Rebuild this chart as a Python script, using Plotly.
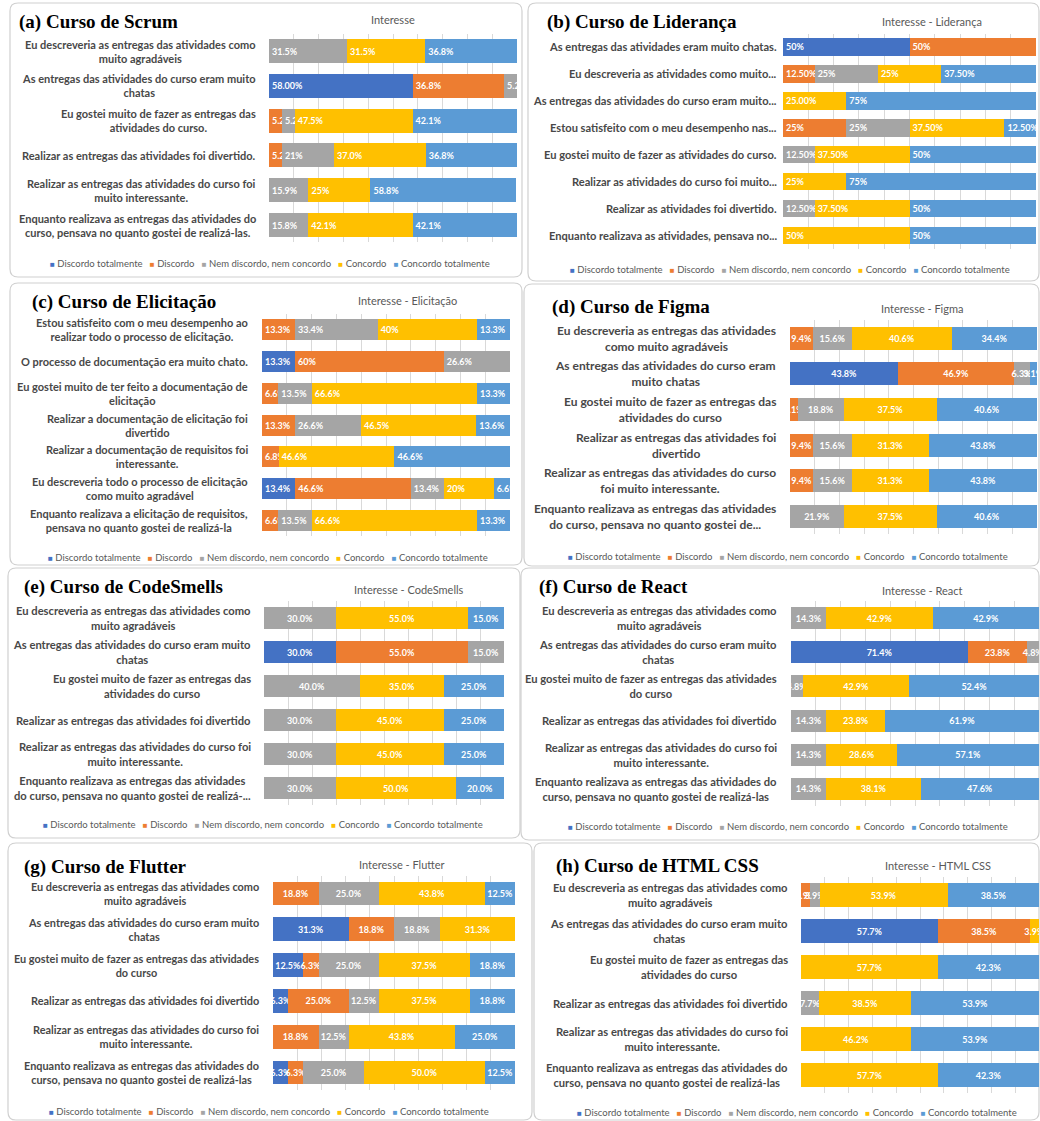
import plotly.graph_objects as go

W, H = 1040, 1121

series_names = ["Discordo totalmente", "Discordo", "Nem discordo, nem concordo", "Concordo", "Concordo totalmente"]
series_colors = ["#4472C4", "#ED7D31", "#A5A5A5", "#FFC000", "#5B9BD5"]

# ---------------- (a) Scrum ----------------
scrum_title = "(a) Curso de Scrum"
scrum_chart_title = "Interesse"
scrum_categories = [
    "Eu descreveria as entregas das atividades como<br>muito agradáveis",
    "As entregas das atividades do curso eram muito<br>chatas",
    "Eu gostei muito de fazer as entregas das<br>atividades do curso.",
    "Realizar as entregas das atividades foi divertido.",
    "Realizar as entregas das atividades do curso foi<br>muito interessante.",
    "Enquanto realizava as entregas das atividades do<br>curso, pensava no quanto gostei de realizá-las.",
]
scrum_dt = [None, "58.00", None, None, None, None]
scrum_d = [None, "36.8", "5.2", "5.2", None, None]
scrum_n = ["31.5", "5.2", "5.2", "21", "15.9", "15.8"]
scrum_c = ["31.5", None, "47.5", "37.0", "25", "42.1"]
scrum_ct = ["36.8", None, "42.1", "36.8", "58.8", "42.1"]

# ---------------- (b) Liderança ----------------
lid_title = "(b) Curso de Liderança"
lid_chart_title = "Interesse - Liderança"
lid_categories = [
    "As entregas das atividades eram muito chatas.",
    "Eu descreveria as atividades como muito...",
    "As entregas das atividades do curso eram muito...",
    "Estou satisfeito com o meu desempenho nas...",
    "Eu gostei muito de fazer as atividades do curso.",
    "Realizar as atividades do curso foi muito...",
    "Realizar as atividades foi divertido.",
    "Enquanto realizava as atividades, pensava no...",
]
lid_dt = ["50", None, None, None, None, None, None, None]
lid_d = ["50", "12.50", None, "25", None, None, None, None]
lid_n = [None, "25", None, "25", "12.50", None, "12.50", None]
lid_c = [None, "25", "25.00", "37.50", "37.50", "25", "37.50", "50"]
lid_ct = [None, "37.50", "75", "12.50", "50", "75", "50", "50"]

# ---------------- (c) Elicitação ----------------
eli_title = "(c) Curso de Elicitação"
eli_chart_title = "Interesse - Elicitação"
eli_categories = [
    "Estou satisfeito com o meu desempenho ao<br>realizar todo o processo de elicitação.",
    "O processo de documentação era muito chato.",
    "Eu gostei muito de ter feito a documentação de<br>elicitação",
    "Realizar a documentação de elicitação foi<br>divertido",
    "Realizar a documentação de requisitos foi<br>interessante.",
    "Eu descreveria todo o processo de elicitação<br>como muito agradável",
    "Enquanto realizava a elicitação de requisitos,<br>pensava no quanto gostei de realizá-la",
]
eli_dt = [None, "13.3", None, None, None, "13.4", None]
eli_d = ["13.3", "60", "6.6", "13.3", "6.8", "46.6", "6.6"]
eli_n = ["33.4", "26.6", "13.5", "26.6", None, "13.4", "13.5"]
eli_c = ["40", None, "66.6", "46.5", "46.6", "20", "66.6"]
eli_ct = ["13.3", None, "13.3", "13.6", "46.6", "6.6", "13.3"]

# ---------------- (d) Figma ----------------
fig_title = "(d) Curso de Figma"
fig_chart_title = "Interesse - Figma"
fig_categories = [
    "Eu descreveria as entregas das atividades<br>como muito agradáveis",
    "As entregas das atividades do curso eram<br>muito chatas",
    "Eu gostei muito de fazer as entregas das<br>atividades do curso",
    "Realizar as entregas das atividades foi<br>divertido",
    "Realizar as entregas das atividades do curso<br>foi muito interessante.",
    "Enquanto realizava as entregas das atividades<br>do curso, pensava no quanto gostei de...",
]
fig_dt = [None, "43.8", None, None, None, None]
fig_d = ["9.4", "46.9", "3.1", "9.4", "9.4", None]
fig_n = ["15.6", "6.3", "18.8", "15.6", "15.6", "21.9"]
fig_c = ["40.6", None, "37.5", "31.3", "31.3", "37.5"]
fig_ct = ["34.4", "3.1", "40.6", "43.8", "43.8", "40.6"]

# ---------------- (e) CodeSmells ----------------
cs_title = "(e) Curso de CodeSmells"
cs_chart_title = "Interesse - CodeSmells"
cs_categories = [
    "Eu descreveria as entregas das atividades como<br>muito agradáveis",
    "As entregas das atividades do curso eram muito<br>chatas",
    "Eu gostei muito de fazer as entregas das<br>atividades do curso",
    "Realizar as entregas das atividades foi divertido",
    "Realizar as entregas das atividades do curso foi<br>muito interessante.",
    "Enquanto realizava as entregas das atividades<br>do curso, pensava no quanto gostei de realizá-...",
]
cs_dt = [None, "30.0", None, None, None, None]
cs_d = [None, "55.0", None, None, None, None]
cs_n = ["30.0", "15.0", "40.0", "30.0", "30.0", "30.0"]
cs_c = ["55.0", None, "35.0", "45.0", "45.0", "50.0"]
cs_ct = ["15.0", None, "25.0", "25.0", "25.0", "20.0"]

# ---------------- (f) React ----------------
re_title = "(f) Curso de React"
re_chart_title = "Interesse - React"
re_categories = [
    "Eu descreveria as entregas das atividades como<br>muito agradáveis",
    "As entregas das atividades do curso eram muito<br>chatas",
    "Eu gostei muito de fazer as entregas das atividades<br>do curso",
    "Realizar as entregas das atividades foi divertido",
    "Realizar as entregas das atividades do curso foi<br>muito interessante.",
    "Enquanto realizava as entregas das atividades do<br>curso, pensava no quanto gostei de realizá-las",
]
re_dt = [None, "71.4", None, None, None, None]
re_d = [None, "23.8", None, None, None, None]
re_n = ["14.3", "4.8", "4.8", "14.3", "14.3", "14.3"]
re_c = ["42.9", None, "42.9", "23.8", "28.6", "38.1"]
re_ct = ["42.9", None, "52.4", "61.9", "57.1", "47.6"]

# ---------------- (g) Flutter ----------------
fl_title = "(g) Curso de Flutter"
fl_chart_title = "Interesse - Flutter"
fl_categories = [
    "Eu descreveria as entregas das atividades como<br>muito agradáveis",
    "As entregas das atividades do curso eram muito<br>chatas",
    "Eu gostei muito de fazer as entregas das atividades<br>do curso",
    "Realizar as entregas das atividades foi divertido",
    "Realizar as entregas das atividades do curso foi<br>muito interessante.",
    "Enquanto realizava as entregas das atividades do<br>curso, pensava no quanto gostei de realizá-las",
]
fl_dt = [None, "31.3", "12.5", "6.3", None, "6.3"]
fl_d = ["18.8", "18.8", "6.3", "25.0", "18.8", "6.3"]
fl_n = ["25.0", "18.8", "25.0", "12.5", "12.5", "25.0"]
fl_c = ["43.8", "31.3", "37.5", "37.5", "43.8", "50.0"]
fl_ct = ["12.5", None, "18.8", "18.8", "25.0", "12.5"]

# ---------------- (h) HTML CSS ----------------
hc_title = "(h) Curso de HTML CSS"
hc_chart_title = "Interesse - HTML CSS"
hc_categories = [
    "Eu descreveria as entregas das atividades como<br>muito agradáveis",
    "As entregas das atividades do curso eram muito<br>chatas",
    "Eu gostei muito de fazer as entregas das<br>atividades do curso",
    "Realizar as entregas das atividades foi divertido",
    "Realizar as entregas das atividades do curso foi<br>muito interessante.",
    "Enquanto realizava as entregas das atividades do<br>curso, pensava no quanto gostei de realizá-las",
]
hc_dt = [None, "57.7", None, None, None, None]
hc_d = ["3.9", "38.5", None, None, None, None]
hc_n = ["3.9", None, None, "7.7", None, None]
hc_c = ["53.9", "3.9", "57.7", "38.5", "46.2", "57.7"]
hc_ct = ["38.5", None, "42.3", "53.9", "53.9", "42.3"]

panels_data = [
    (scrum_title, scrum_chart_title, scrum_categories, [scrum_dt, scrum_d, scrum_n, scrum_c, scrum_ct]),
    (lid_title, lid_chart_title, lid_categories, [lid_dt, lid_d, lid_n, lid_c, lid_ct]),
    (eli_title, eli_chart_title, eli_categories, [eli_dt, eli_d, eli_n, eli_c, eli_ct]),
    (fig_title, fig_chart_title, fig_categories, [fig_dt, fig_d, fig_n, fig_c, fig_ct]),
    (cs_title, cs_chart_title, cs_categories, [cs_dt, cs_d, cs_n, cs_c, cs_ct]),
    (re_title, re_chart_title, re_categories, [re_dt, re_d, re_n, re_c, re_ct]),
    (fl_title, fl_chart_title, fl_categories, [fl_dt, fl_d, fl_n, fl_c, fl_ct]),
    (hc_title, hc_chart_title, hc_categories, [hc_dt, hc_d, hc_n, hc_c, hc_ct]),
]

# ---------------- layout (pixel positions) ----------------
panels_layout = [
    dict(bx=(269, 517), by=(33.6, 242.4), bw=0.69, lr=258, ls=11, tl=(17, 22), ct=(393, 20), lg=(270, 263), box=(10, 3, 522, 277), anchor="start"),
    dict(bx=(783, 1036), by=(33.5, 249), bw=0.65, lr=779, ls=11.1, tl=(545, 22), ct=(932, 21), lg=(790, 269), box=(528, 3, 1039, 281), anchor="start"),
    dict(bx=(262, 510), by=(313.6, 536.4), bw=0.66, lr=250, ls=11, tl=(30, 302), ct=(407, 301), lg=(268, 557), box=(10, 283, 522, 565), anchor="start"),
    dict(bx=(790, 1037), by=(320.2, 534.4), bw=0.645, lr=778, ls=12, tl=(550, 307), ct=(922, 308), lg=(788, 556), box=(524, 284, 1039, 566), anchor="middle"),
    dict(bx=(264, 504), by=(601, 805), bw=0.65, lr=253, ls=11.2, tl=(22, 587), ct=(409, 589), lg=(263, 824), box=(8, 568, 520, 838), anchor="middle"),
    dict(bx=(791, 1039), by=(601, 806), bw=0.645, lr=779, ls=11.2, tl=(537, 587), ct=(922, 590), lg=(788, 826), box=(521, 568, 1039, 840), anchor="middle"),
    dict(bx=(273, 515), by=(875.6, 1090.4), bw=0.66, lr=261, ls=10.9, tl=(22, 867), ct=(402, 864), lg=(269, 1111), box=(8, 843, 532, 1120), anchor="middle"),
    dict(bx=(801, 1039), by=(877, 1093), bw=0.667, lr=790, ls=11.2, tl=(554, 866), ct=(938, 866), lg=(797, 1112), box=(534, 843, 1039, 1120), anchor="middle"),
]

def fx(px):
    return px / W

def fy(py):
    return 1 - py / H

LABEL_FONT = "Lato, 'Open Sans', sans-serif"
TEXT_GRAY = "#595959"

fig = go.Figure()
annotations = []
shapes = []
layout_axes = {}

for i, ((title, ctitle, cats, series), L) in enumerate(zip(panels_data, panels_layout)):
    n = i + 1
    xa = "x" if n == 1 else f"x{n}"
    ya = "y" if n == 1 else f"y{n}"
    xkey = "xaxis" if n == 1 else f"xaxis{n}"
    ykey = "yaxis" if n == 1 else f"yaxis{n}"

    for name, color, vals in zip(series_names, series_colors, series):
        fig.add_trace(go.Bar(
            x=[float(v) / 100 if v else None for v in vals],
            y=cats,
            orientation="h",
            name=name,
            width=L["bw"],
            marker=dict(color=color, line=dict(width=0)),
            text=[(v + "%") if v else "" for v in vals],
            textposition="inside",
            insidetextanchor=L["anchor"],
            textangle=0,
            constraintext="none",
            cliponaxis=True,
            textfont=dict(family=LABEL_FONT, size=9, color="white", weight="bold"),
            xaxis=xa, yaxis=ya,
            showlegend=False,
            hoverinfo="skip",
        ))

    layout_axes[xkey] = dict(
        domain=[fx(L["bx"][0]), fx(L["bx"][1])],
        range=[0, 1], dtick=0.1, tick0=0,
        showgrid=True, gridcolor="#D9D9D9", gridwidth=1,
        showticklabels=False, zeroline=False, showline=False, ticks="",
        anchor=ya, fixedrange=True,
    )
    layout_axes[ykey] = dict(
        domain=[fy(L["by"][1]), fy(L["by"][0])],
        type="category", categoryorder="array", categoryarray=cats,
        range=[len(cats) - 0.5, -0.5],
        showticklabels=False, showgrid=False, zeroline=False, showline=False, ticks="",
        anchor=xa, fixedrange=True,
    )

    # category labels
    for c in cats:
        annotations.append(dict(
            text=c, x=fx(L["lr"]), xref="paper", xanchor="right",
            y=c, yref=ya, yanchor="middle", align="center", showarrow=False,
            font=dict(family=LABEL_FONT, size=L["ls"], color="#484848", weight="bold"),
        ))

    # panel title
    annotations.append(dict(
        text=f"<b>{title}</b>", x=fx(L["tl"][0]), y=fy(L["tl"][1]), xref="paper", yref="paper",
        xanchor="left", yanchor="middle", showarrow=False,
        font=dict(family="'Liberation Serif', 'Times New Roman', serif", size=19, color="black"),
    ))
    # chart title
    annotations.append(dict(
        text=ctitle, x=fx(L["ct"][0]), y=fy(L["ct"][1]), xref="paper", yref="paper",
        xanchor="center", yanchor="middle", showarrow=False,
        font=dict(family=LABEL_FONT, size=11, color=TEXT_GRAY),
    ))
    # legend
    items = [f"<span style='color:{c};font-size:8px'>■</span> {nm}" for nm, c in zip(series_names, series_colors)]
    annotations.append(dict(
        text="&nbsp;&nbsp;&nbsp;".join(items), x=fx(L["lg"][0]), y=fy(L["lg"][1]),
        xref="paper", yref="paper", xanchor="center", yanchor="middle", showarrow=False,
        font=dict(family=LABEL_FONT, size=9.5, color=TEXT_GRAY),
    ))
    # panel frame
    x0, y0, x1, y1 = L["box"]
    r = 8
    path = (f"M {fx(x0 + r)},{fy(y0)} H {fx(x1 - r)} Q {fx(x1)},{fy(y0)} {fx(x1)},{fy(y0 + r)} "
            f"V {fy(y1 - r)} Q {fx(x1)},{fy(y1)} {fx(x1 - r)},{fy(y1)} H {fx(x0 + r)} "
            f"Q {fx(x0)},{fy(y1)} {fx(x0)},{fy(y1 - r)} V {fy(y0 + r)} Q {fx(x0)},{fy(y0)} {fx(x0 + r)},{fy(y0)} Z")
    shapes.append(dict(type="path", path=path, xref="paper", yref="paper",
                       line=dict(color="#D0D0D0", width=1.2), layer="below"))

fig.update_layout(
    width=W, height=H,
    margin=dict(l=0, r=0, t=0, b=0),
    paper_bgcolor="white", plot_bgcolor="white",
    barmode="stack",
    showlegend=False,
    annotations=annotations,
    shapes=shapes,
    **layout_axes,
)

fig.write_html(
    "out.html",
    config={"displayModeBar": False},
    post_script="document.body.style.margin='0';document.body.style.overflow='hidden';",
)
